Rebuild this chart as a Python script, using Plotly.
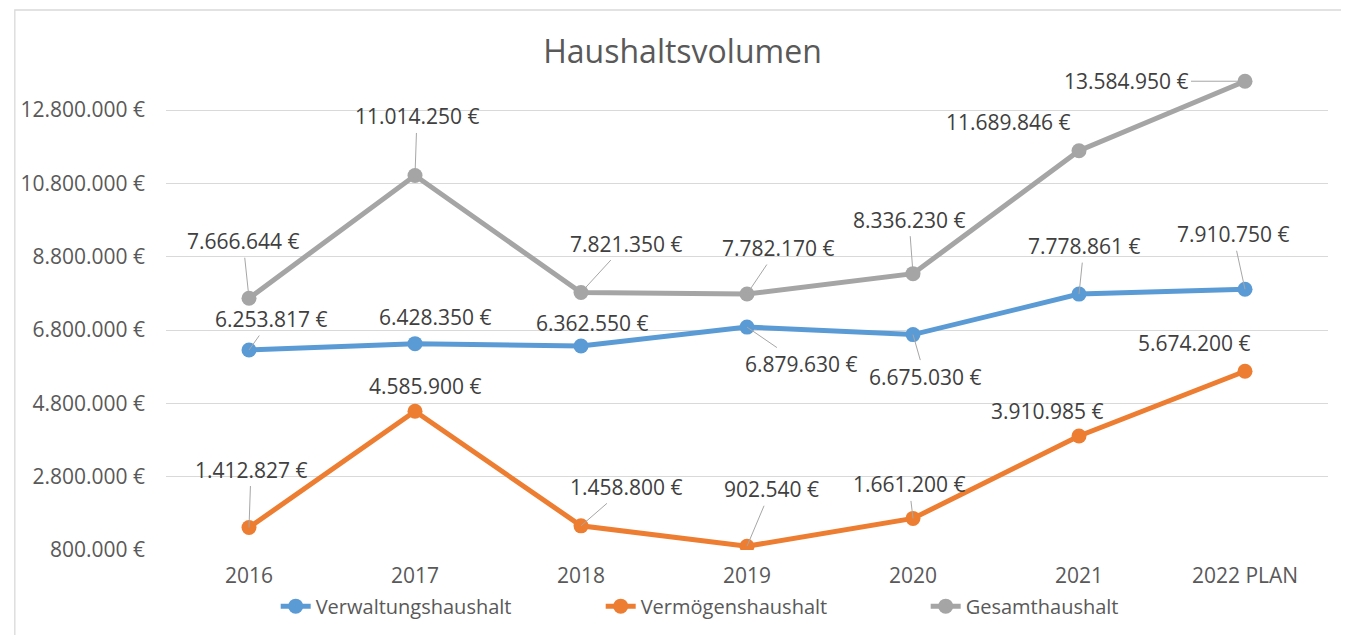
import plotly.graph_objects as go

categories = ["2016", "2017", "2018", "2019", "2020", "2021", "2022 PLAN"]
verwaltung = [6253817, 6428350, 6362550, 6879630, 6675030, 7778861, 7910750]
vermoegen = [1412827, 4585900, 1458800, 902540, 1661200, 3910985, 5674200]
gesamt = [7666644, 11014250, 7821350, 7782170, 8336230, 11689846, 13584950]

series_names = ["Verwaltungshaushalt", "Vermögenshaushalt", "Gesamthaushalt"]
colors = ["#5B9BD5", "#ED7D31", "#A5A5A5"]

# label placement (pixel offsets from the point, and whether a leader line shows)
label_offsets = {
    "Verwaltungshaushalt": [(22, -31, 1), (20, -27, 0), (11, -23, 0), (54, 37, 1), (12, 42, 1), (5, -48, 1), (-12, -55, 1)],
    "Vermögenshaushalt": [(2, -58, 1), (10, -25, 0), (45, -39, 1), (24, -57, 1), (-4, -34, 1), (-32, -25, 0), (-51, -28, 0)],
    "Gesamthaushalt": [(-6, -57, 1), (2, -59, 1), (45, -49, 1), (31, -46, 1), (-4, -54, 1), (-71, -29, 0), (-119, 0, 1)],
}

FONT = "Open Sans"


def fmt(v):
    return f"{v:,}".replace(",", ".") + " €"


fig = go.Figure()
data = [verwaltung, vermoegen, gesamt]
for name, vals, col in zip(series_names, data, colors):
    fig.add_trace(go.Scatter(
        x=categories, y=vals, name=name, mode="lines+markers",
        line=dict(color=col, width=5),
        marker=dict(color=col, size=15),
        hoverinfo="skip",
    ))

annotations = []
for name, vals in zip(series_names, data):
    for i, (v, (dx, dy, leader)) in enumerate(zip(vals, label_offsets[name])):
        annotations.append(dict(
            x=i, y=v, xref="x", yref="y", text=fmt(v),
            showarrow=True, ax=dx, ay=dy, arrowhead=0,
            arrowwidth=1,
            arrowcolor="#A6A6A6" if leader else "rgba(0,0,0,0)",
            font=dict(family=FONT, size=21, color="#404040"),
            borderpad=2,
        ))

fig.update_layout(
    width=1349, height=635,
    paper_bgcolor="white", plot_bgcolor="white",
    margin=dict(l=152, r=29, t=58, b=93),
    title=dict(text="Haushaltsvolumen", x=0.5, xanchor="center", y=0.9307, yanchor="middle",
               font=dict(family=FONT, size=32, color="#595959")),
    font=dict(family=FONT, size=21, color="#595959"),
    xaxis=dict(type="category", range=[-0.5, 6.5], showgrid=False, zeroline=False,
               showline=False, ticks="", ticklabelstandoff=11,
               tickfont=dict(family=FONT, size=21, color="#595959")),
    yaxis=dict(range=[800000, 14000000], tick0=800000, dtick=2000000,
               tickformat=",d", ticksuffix=" €", showgrid=True, gridcolor="#D9D9D9",
               gridwidth=1.3, zeroline=False, showline=False, ticks="", ticklabelstandoff=20,
               tickfont=dict(family=FONT, size=21, color="#595959")),
    separators=",.",
    showlegend=True,
    legend=dict(orientation="h", x=0.0944, xanchor="left", y=-0.116, yanchor="middle",
                entrywidth=280, font=dict(family=FONT, size=20, color="#595959"),
                bgcolor="rgba(0,0,0,0)"),
    annotations=annotations,
    shapes=[dict(type="rect", xref="paper", yref="paper", x0=-0.1301, x1=1.0146,
                 y0=-0.2, y1=1.1157, line=dict(color="#D9D9D9", width=1.3),
                 fillcolor="rgba(0,0,0,0)", layer="below")],
)

fig.write_html("out.html")
